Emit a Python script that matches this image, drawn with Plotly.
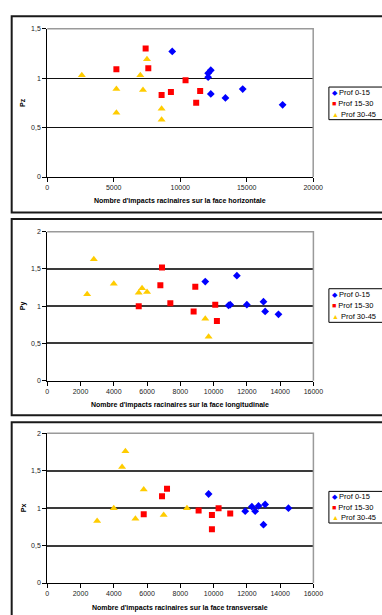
import plotly.graph_objects as go

W, H = 382, 615

# ---------------- data ----------------
# Panel 1 : Pz vs impacts on horizontal face
hz_x_0_15 = [9400, 12100, 12300, 12100, 12300, 13400, 14700, 17700]
hz_y_0_15 = [1.27, 1.05, 1.08, 1.01, 0.84, 0.80, 0.89, 0.73]
hz_x_15_30 = [7400, 5200, 7600, 10400, 8600, 9300, 11500, 11200]
hz_y_15_30 = [1.30, 1.09, 1.10, 0.98, 0.83, 0.86, 0.87, 0.75]
hz_x_30_45 = [2600, 7500, 7000, 5200, 7200, 5200, 8600, 8600]
hz_y_30_45 = [1.03, 1.19, 1.03, 0.89, 0.88, 0.65, 0.69, 0.58]

# Panel 2 : Py vs impacts on longitudinal face
lo_x_0_15 = [9500, 11400, 10900, 11000, 12000, 13000, 13100, 13900]
lo_y_0_15 = [1.33, 1.41, 1.01, 1.02, 1.02, 1.06, 0.93, 0.89]
lo_x_15_30 = [6900, 6800, 8900, 5500, 7400, 8800, 10100, 10200]
lo_y_15_30 = [1.52, 1.28, 1.26, 1.00, 1.04, 0.93, 1.02, 0.80]
lo_x_30_45 = [2800, 2400, 4000, 5500, 5700, 6000, 9500, 9700]
lo_y_30_45 = [1.63, 1.16, 1.30, 1.18, 1.24, 1.19, 0.83, 0.59]

# Panel 3 : Px vs impacts on transversal face
tr_x_0_15 = [9700, 11900, 12300, 12500, 12700, 13100, 13000, 14500]
tr_y_0_15 = [1.19, 0.96, 1.02, 0.96, 1.03, 1.05, 0.78, 1.00]
tr_x_15_30 = [7200, 6900, 5800, 9100, 9900, 10300, 11000, 9900]
tr_y_15_30 = [1.26, 1.16, 0.92, 0.97, 0.91, 1.00, 0.93, 0.72]
tr_x_30_45 = [4700, 4500, 5800, 4000, 3000, 5300, 7000, 8400]
tr_y_30_45 = [1.76, 1.55, 1.25, 1.00, 0.83, 0.86, 0.91, 1.00]

series_names = ["Prof 0-15", "Prof 15-30", "Prof 30-45"]

x_ticks_1 = [0, 5000, 10000, 15000, 20000]
x_ticks_23 = [0, 2000, 4000, 6000, 8000, 10000, 12000, 14000, 16000]
y_ticks_1 = [0, 0.5, 1, 1.5]
y_ticklabels_1 = ["0", "0,5", "1", "1,5"]
y_ticks_23 = [0, 0.5, 1, 1.5, 2]
y_ticklabels_23 = ["0", "0,5", "1", "1,5", "2"]

x_titles = ["Nombre d'impacts racinaires sur la face horizontale",
            "Nombre d'impacts racinaires sur la face longitudinale",
            "Nombre d'impacts racinaires sur la face transversale"]
y_titles = ["Pz", "Py", "Px"]

# ---------------- style ----------------
FONT = "Liberation Sans, Arial, sans-serif"
COLORS = ["#0000FF", "#FF0000", "#FFCC00"]
SYMBOLS = ["diamond", "square", "triangle-up"]
SIZES = [6, 6, 7]
GLYPHS = ["\u25C6", "\u25A0", "\u25B2"]


def px(x):
    return x / W


def py(y):
    return 1 - y / H


fig = go.Figure()

panels = [
    (("x", "y"), [(hz_x_0_15, hz_y_0_15), (hz_x_15_30, hz_y_15_30), (hz_x_30_45, hz_y_30_45)]),
    (("x2", "y2"), [(lo_x_0_15, lo_y_0_15), (lo_x_15_30, lo_y_15_30), (lo_x_30_45, lo_y_30_45)]),
    (("x3", "y3"), [(tr_x_0_15, tr_y_0_15), (tr_x_15_30, tr_y_15_30), (tr_x_30_45, tr_y_30_45)]),
]

for (xa, ya), data in panels:
    for i, (xs, ys) in enumerate(data):
        fig.add_trace(go.Scatter(
            x=xs, y=ys, mode="markers", name=series_names[i],
            xaxis=xa, yaxis=ya, showlegend=False,
            marker=dict(symbol=SYMBOLS[i], size=SIZES[i], color=COLORS[i],
                        line=dict(width=0)),
        ))

# pixel geometry of each panel
# (plot left, plot right, plot top, plot bottom, box top, box bottom, legend top, legend bottom)
geo = [
    (46.7, 321.3, 25.0, 175.0, 12.5, 211.0, 84.0, 117.0),
    (46.7, 321.5, 230.3, 381.0, 217.5, 416.0, 288.0, 322.0),
    (46.7, 321.5, 434.3, 585.7, 423.0, 640.0, 493.0, 525.0),
]
xt_y = [199.0, 406.0, 610.5]
grid_styles = [("#111111", 1.0), ("#3a3a3a", 1.5), ("#3a3a3a", 1.5)]

layout_axes = {}
shapes = []
annotations = []
tickfont = dict(family=FONT, size=7, color="#222222")

for k in range(3):
    L, R, T, B, bt, bb, lt, lb = geo[k]
    suffix = "" if k == 0 else str(k + 1)
    xt = x_ticks_1 if k == 0 else x_ticks_23
    yt = y_ticks_1 if k == 0 else y_ticks_23
    ytl = y_ticklabels_1 if k == 0 else y_ticklabels_23
    gc, gw = grid_styles[k]
    layout_axes["xaxis" + suffix] = dict(
        domain=[px(L), px(R)], range=[0, xt[-1]], anchor="y" + suffix,
        tickvals=xt, ticktext=[str(v) for v in xt],
        ticks="outside", ticklen=4, tickcolor="black", tickwidth=1,
        showline=True, linecolor="black", linewidth=1,
        showgrid=False, zeroline=False, tickfont=tickfont, fixedrange=True,
    )
    layout_axes["yaxis" + suffix] = dict(
        domain=[py(B), py(T)], range=[0, yt[-1]], anchor="x" + suffix,
        tickvals=yt, ticktext=ytl,
        ticks="outside", ticklen=4, tickcolor="black", tickwidth=1,
        showline=True, linecolor="black", linewidth=1,
        showgrid=True, gridcolor=gc, gridwidth=gw,
        zeroline=False, tickfont=tickfont, fixedrange=True,
    )
    # outer panel box
    shapes.append(dict(type="rect", xref="paper", yref="paper",
                       x0=px(10), x1=px(420), y0=py(bb), y1=py(bt),
                       line=dict(color="#1a1a1a", width=2), layer="below"))
    # grey top/right plot border
    shapes.append(dict(type="path", xref="x%s domain" % suffix, yref="y%s domain" % suffix,
                       path="M 0 1 L 1 1 L 1 0",
                       line=dict(color="#9a9a9a", width=1.5), layer="above"))
    # legend box
    shapes.append(dict(type="rect", xref="paper", yref="paper",
                       x0=px(337.5), x1=px(420), y0=py(lb), y1=py(lt),
                       line=dict(color="black", width=1), fillcolor="white", layer="above"))
    # legend entries
    step = (lb - lt) / 3.0
    for i in range(3):
        yc = lt + step * (i + 0.5)
        annotations.append(dict(
            xref="paper", yref="paper", x=px(338.5), y=py(yc),
            xanchor="left", yanchor="middle", showarrow=False,
            text='<span style="color:%s;font-size:7px">%s</span> %s' % (COLORS[i], GLYPHS[i], series_names[i]),
            font=dict(family=FONT, size=7.5, color="black"),
        ))
    # x title
    annotations.append(dict(
        xref="paper", yref="paper", x=px(184), y=py(xt_y[k]),
        xanchor="center", yanchor="middle", showarrow=False,
        text="<b>%s</b>" % x_titles[k],
        font=dict(family=FONT, size=7, color="black"),
    ))
    # y title
    annotations.append(dict(
        xref="paper", yref="paper", x=px(21.7), y=py((T + B) / 2),
        xanchor="center", yanchor="middle", showarrow=False, textangle=-90,
        text="<b>%s</b>" % y_titles[k],
        font=dict(family=FONT, size=7, color="black"),
    ))

fig.update_layout(
    width=W, height=H,
    margin=dict(l=0, r=0, t=0, b=0),
    paper_bgcolor="white", plot_bgcolor="white",
    showlegend=False,
    shapes=shapes, annotations=annotations,
    font=dict(family=FONT, size=7, color="black"),
    **layout_axes,
)

fig.write_html("out.html")
